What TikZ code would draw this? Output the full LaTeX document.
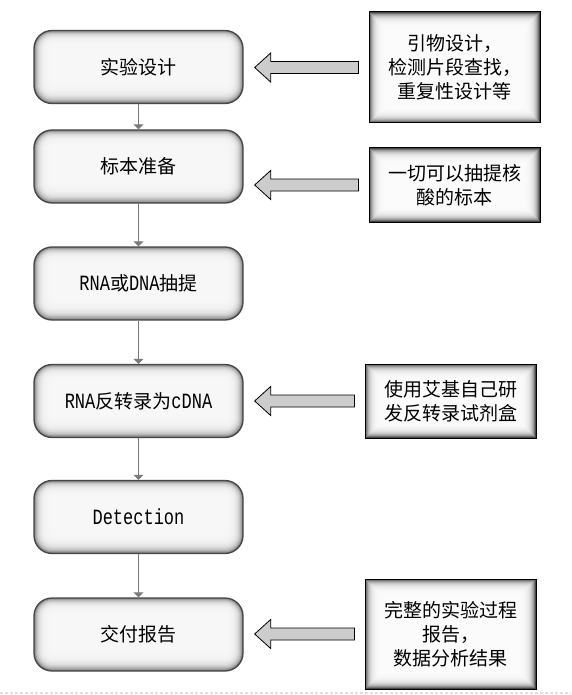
\documentclass[tikz,border=0pt]{standalone}
\usepackage{graphicx}
\usepackage{fontspec}
\setmainfont{Liberation Mono}
\newfontfamily\cjkf{Noto Sans CJK SC}
\usetikzlibrary{arrows.meta,calc}
\newcommand\zh[1]{{\fontsize{19}{22}\selectfont\cjkf #1}}
\newcommand\lt[1]{\scalebox{1}[1.28]{#1}}
\tikzset{
  leftbox/.style={draw=black!72, line width=1.3pt, rounded corners=18pt,
    minimum width=209pt, minimum height=73pt, inner sep=0pt,
    font=\fontsize{17}{20}\selectfont,
    path picture={
      \foreach \k in {0,...,16}{
        \pgfmathsetmacro\cc{3+50*exp(-\k/3.2)}
        \pgfmathsetmacro\rr{max(1,18-\k)}
        \fill[black!\cc, rounded corners=\rr pt]
          ([xshift=\k pt,yshift=1.2*\k pt]path picture bounding box.south west)
          rectangle ([xshift=-\k pt,yshift=-0.9*\k pt]path picture bounding box.north east);
      }
    }},
  rightbox/.style={draw=black, line width=1pt, inner sep=0pt, align=center,
    font=\fontsize{19}{24}\selectfont\cjkf,
    path picture={
      \foreach \k in {0,...,16}{
        \pgfmathsetmacro\cc{1+72*exp(-\k/3.3)}
        \fill[black!\cc]
          ([xshift=\k pt,yshift=\k pt]path picture bounding box.south west)
          rectangle ([xshift=-\k pt,yshift=-\k pt]path picture bounding box.north east);
      }
    }},
  flow/.style={draw=black!52, line width=1.6pt, -{Triangle[width=10pt,length=5pt]}},
  blockarrow/.style={draw=black, line width=0.8pt, fill=black!20, line join=miter}
}
\begin{document}
\begin{tikzpicture}[x=1pt,y=-1pt]
\useasboundingbox (0,0) rectangle (571,695);
\fill[white] (0,0) rectangle (571,695);
% left flow boxes
\node[leftbox] (s1) at (138.5,67) {\zh{实验设计}};
\node[leftbox] (s2) at (138.5,166.5) {\zh{标本准备}};
\node[leftbox] (s3) at (138.5,283.5) {\lt{RNA}\zh{或}\lt{DNA}\zh{抽提}};
\node[leftbox] (s4) at (138.5,401) {\lt{RNA}\zh{反转录为}\lt{cDNA}};
\node[leftbox] (s5) at (138.5,517) {\lt{Detection}};
\node[leftbox] (s6) at (138.5,634.5) {\zh{交付报告}};
% right note boxes
\node[rightbox, minimum width=171pt, minimum height=111pt] (r1) at (454.5,67.5) {引物设计，\\检测片段查找，\\重复性设计等};
\node[rightbox, minimum width=171pt, minimum height=74pt] (r2) at (454.5,185) {一切可以抽提核\\酸的标本};
\node[rightbox, minimum width=171pt, minimum height=74pt] (r4) at (450.5,401) {使用艾基自己研\\发反转录试剂盒};
\node[rightbox, minimum width=171pt, minimum height=110pt] (r6) at (450.5,634) {完整的实验过程\\报告，\\数据分析结果};
% vertical connectors
\draw[flow] (s1) -- (s2);
\draw[flow] (s2) -- (s3);
\draw[flow] (s3) -- (s4);
\draw[flow] (s4) -- (s5);
\draw[flow] (s5) -- (s6);
% block arrows
\foreach \r/\s in {r1/s1, r2/s2, r4/s4, r6/s6}{
  \path let \p1=(\s.east), \p2=(\r.west) in
    coordinate (tip) at (\x1+11pt,\y2)
    coordinate (tail) at (\x2-10pt,\y2);
  \draw[blockarrow] (tip) -- ++(16,-14.5) -- ++(0,8.5) -- ($(tail)+(0,-6)$)
    -- ($(tail)+(0,6)$) -- ($(tip)+(16,6)$) -- ++(0,8.5) -- cycle;
}
% bottom dashed line
\draw[black!12, line width=1.2pt, dash pattern=on 3pt off 2pt] (0,693) -- (571,693);
\end{tikzpicture}
\end{document}
